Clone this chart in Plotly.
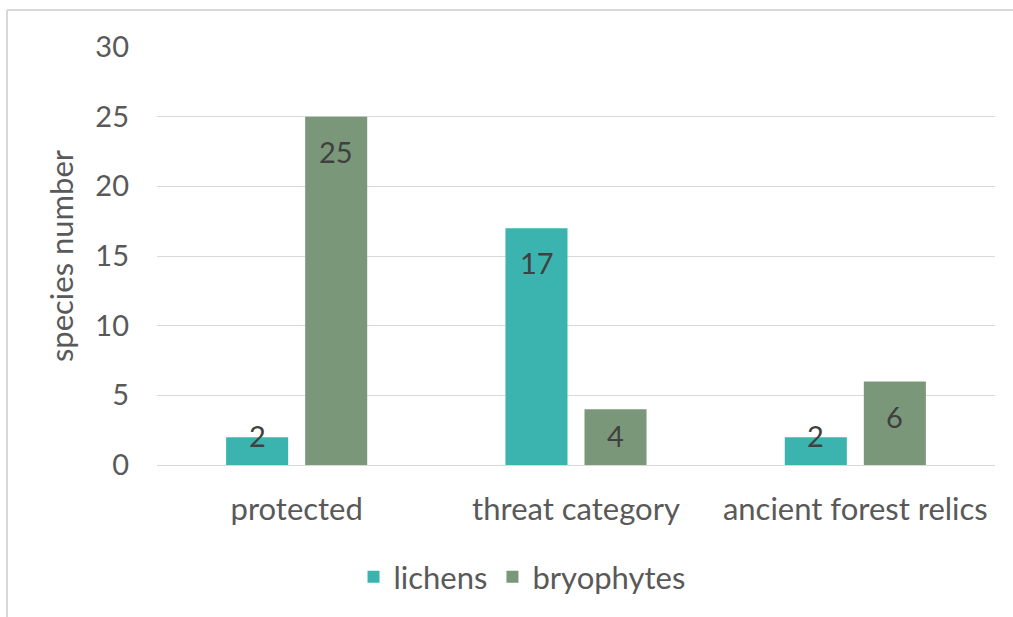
import plotly.graph_objects as go

categories = ["protected", "threat category", "ancient forest relics"]
lichens = [2, 17, 2]
bryophytes = [25, 4, 6]
y_ticks = [0, 5, 10, 15, 20, 25, 30]

C_LICHEN = "#3bb4b0"
C_BRYO = "#7b977a"
TXT = "#595959"
FONT = "Lato"
FS = 29
FS_L = 31

W, H = 1013, 617
ML, MR, MT, MB = 157, 18, 47, 152

fig = go.Figure()
fig.add_trace(go.Bar(name="lichens", x=categories, y=lichens,
                     marker=dict(color=C_LICHEN, line=dict(width=0))))
fig.add_trace(go.Bar(name="bryophytes", x=categories, y=bryophytes,
                     marker=dict(color=C_BRYO, line=dict(width=0))))

# data labels
for i, series in enumerate([lichens, bryophytes]):
    for c, v in zip(categories, series):
        fig.add_annotation(x=c, y=max(v - 2.5, 2.15), xref="x", yref="y",
                           text=str(v), showarrow=False,
                           xshift=(-1 if i == 0 else 1) * 39.5,
                           font=dict(family=FONT, size=FS, color="#404040"))

# outer border (top and left)
pw = W - ML - MR
ph = H - MT - MB
fx0 = (7 - ML) / pw
fx1 = 1 + MR / pw
fy1 = 1 + (MT - 10) / ph
fy0 = -MB / ph
fig.add_shape(type="line", xref="paper", yref="paper", x0=fx0, x1=fx1, y0=fy1, y1=fy1,
              line=dict(color="#d9d9d9", width=2))
fig.add_shape(type="line", xref="paper", yref="paper", x0=fx0, x1=fx0, y0=fy0, y1=fy1,
              line=dict(color="#d9d9d9", width=2))

fig.update_layout(
    width=W, height=H,
    margin=dict(l=ML, r=MR, t=MT, b=MB),
    paper_bgcolor="white", plot_bgcolor="white",
    barmode="group", bargap=0.434, bargroupgap=0.215,
    font=dict(family=FONT, size=FS, color=TXT),
    showlegend=True,
    legend=dict(orientation="h", x=(522 - ML) / pw, xanchor="center",
                y=(465 - 577) / ph, yanchor="middle",
                font=dict(family=FONT, size=FS_L, color=TXT), itemwidth=30,
                traceorder="normal"),
    xaxis=dict(showgrid=False, showline=True, linecolor="#d9d9d9", linewidth=1,
               ticks="", tickfont=dict(family=FONT, size=FS_L, color=TXT),
               ticklabelstandoff=17),
    yaxis=dict(range=[0, 30], tickvals=y_ticks, showgrid=True, gridcolor="#d9d9d9",
               gridwidth=1, zeroline=False, showline=False, ticks="",
               tickfont=dict(family=FONT, size=FS, color=TXT), ticklabelstandoff=27,
               title=dict(text="species number", font=dict(family=FONT, size=FS_L, color=TXT),
                          standoff=12)),
)

fig.write_html("out.html", config={"displayModeBar": False},
               post_script="document.body.style.margin='0';")
